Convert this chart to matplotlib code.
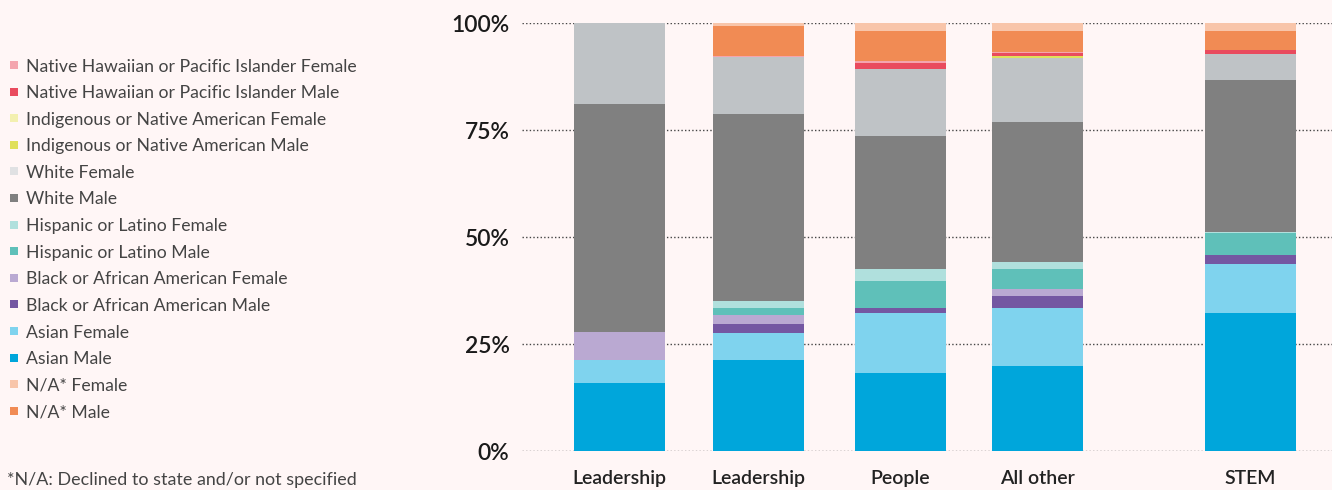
import matplotlib
matplotlib.use("Agg")
import matplotlib.pyplot as plt
from matplotlib.patches import Rectangle

plt.rcParams['font.family'] = ['Lato', 'DejaVu Sans']

# Workforce composition by group (percent of each group)
groups = ["Leadership", "Leadership", "People", "All other", "STEM"]
positions = [0, 1.0, 2.02, 3.01, 4.54]

# stacked from bottom to top
asian_male        = [15.9, 21.3, 18.2, 19.9, 32.2]
asian_female      = [5.4, 6.3, 14.0, 13.5, 11.5]
black_male        = [0.0, 2.1, 1.2, 2.8, 2.1]
black_female      = [6.5, 2.1, 0.0, 1.7, 0.0]
hispanic_male     = [0.0, 1.6, 6.3, 4.6, 5.1]
hispanic_female   = [0.0, 1.6, 2.8, 1.7, 0.3]
white_male        = [53.3, 43.7, 31.1, 32.7, 35.5]
white_female      = [18.9, 13.4, 15.7, 14.9, 6.1]
indigenous_male   = [0.0, 0.0, 0.0, 0.5, 0.0]
indigenous_female = [0.0, 0.0, 0.0, 0.0, 0.0]
nhpi_male         = [0.0, 0.0, 1.4, 0.8, 0.9]
nhpi_female       = [0.0, 0.3, 0.4, 0.1, 0.0]
na_male           = [0.0, 6.8, 7.0, 4.9, 4.4]
na_female         = [0.0, 0.8, 1.9, 1.9, 1.9]

series = [
    ("Asian Male", asian_male, "#00a6db"),
    ("Asian Female", asian_female, "#7fd3ee"),
    ("Black or African American Male", black_male, "#7457a2"),
    ("Black or African American Female", black_female, "#baa9d2"),
    ("Hispanic or Latino Male", hispanic_male, "#5fc0b9"),
    ("Hispanic or Latino Female", hispanic_female, "#b0e0dd"),
    ("White Male", white_male, "#808080"),
    ("White Female", white_female, "#bfc3c6"),
    ("Indigenous or Native American Male", indigenous_male, "#e0e05a"),
    ("Indigenous or Native American Female", indigenous_female, "#f3f0b0"),
    ("Native Hawaiian or Pacific Islander Male", nhpi_male, "#e94b5e"),
    ("Native Hawaiian or Pacific Islander Female", nhpi_female, "#f4a5ae"),
    ("N/A* Male", na_male, "#f18b54"),
    ("N/A* Female", na_female, "#f8c5aa"),
]

legend_order = [
    "Native Hawaiian or Pacific Islander Female",
    "Native Hawaiian or Pacific Islander Male",
    "Indigenous or Native American Female",
    "Indigenous or Native American Male",
    "White Female",
    "White Male",
    "Hispanic or Latino Female",
    "Hispanic or Latino Male",
    "Black or African American Female",
    "Black or African American Male",
    "Asian Female",
    "Asian Male",
    "N/A* Female",
    "N/A* Male",
]
legend_swatch = {name: color for name, _, color in series}
legend_swatch["White Female"] = "#e0e1e3"

bg = "#fff6f6"
fig = plt.figure(figsize=(13.32, 4.90), dpi=100, facecolor=bg)
ax = fig.add_axes([522 / 1332, 39 / 490, 810 / 1332, 428 / 490], facecolor=bg)

bottom = [0.0] * len(groups)
for name, vals, color in series:
    ax.bar(positions, vals, bottom=bottom, width=0.655, color=color,
           linewidth=0, zorder=3)
    bottom = [b + v for b, v in zip(bottom, vals)]

ax.set_ylim(0, 100)
ax.set_xlim(-0.701, 5.126)
ax.set_yticks([0, 25, 50, 75, 100])
ax.set_yticklabels(["0%", "25%", "50%", "75%", "100%"])
ax.yaxis.grid(True, color="#444444", linestyle=(0, (1, 1.6)), linewidth=1.0, zorder=0)
ax.tick_params(axis="y", length=0, pad=9, labelsize=16.5, labelcolor="#1a1a1a")
for lbl in ax.get_yticklabels():
    lbl.set_fontweight("semibold")
ax.set_xticks([])
for s in ax.spines.values():
    s.set_visible(False)
ax.set_axisbelow(True)

for x, g in zip(positions, groups):
    ax.text(x, -4.4, g, ha="center", va="top", fontsize=14,
            fontweight="semibold", color="#222222", transform=ax.transData,
            clip_on=False)

# legend drawn as swatches + labels
y0, step = 65, 26.6
for i, name in enumerate(legend_order):
    yc = y0 + i * step
    fig.add_artist(Rectangle((10 / 1332, 1 - (yc + 4) / 490), 8 / 1332, 8 / 490,
                             transform=fig.transFigure,
                             facecolor=legend_swatch[name], edgecolor="none"))
    fig.text(26 / 1332, 1 - (yc + 1.5) / 490, name, ha="left", va="center",
             fontsize=12.7, color="#444444")

fig.text(7 / 1332, 1 - 480 / 490, "*N/A: Declined to state and/or not specified",
         ha="left", va="center", fontsize=12.9, color="#444444")

fig.savefig("out.png", dpi=100, facecolor=bg)
